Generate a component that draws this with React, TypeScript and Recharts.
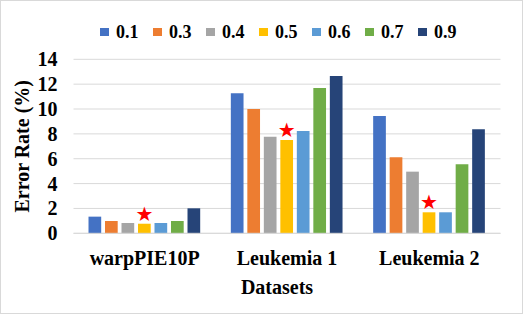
import React from 'react'
import { BarChart, Bar, XAxis, YAxis, CartesianGrid, Label, LabelList } from 'recharts'

// datasets on the x axis
const categories = ['warpPIE10P', 'Leukemia 1', 'Leukemia 2']

// error rate (%) per parameter value
const r01 = [1.34, 11.26, 9.44]
const r03 = [0.99, 10.0, 6.11]
const r04 = [0.83, 7.77, 4.96]
const r05 = [0.77, 7.5, 1.69]
const r06 = [0.83, 8.23, 1.69]
const r07 = [0.99, 11.69, 5.55]
const r09 = [2.01, 12.65, 8.37]

const yTicks = [0, 2, 4, 6, 8, 10, 12, 14]

const series = [
  { key: '0.1', values: r01, color: '#4472C4' },
  { key: '0.3', values: r03, color: '#ED7D31' },
  { key: '0.4', values: r04, color: '#A5A5A5' },
  { key: '0.5', values: r05, color: '#FFC000' },
  { key: '0.6', values: r06, color: '#5B9BD5' },
  { key: '0.7', values: r07, color: '#70AD47' },
  { key: '0.9', values: r09, color: '#264478' },
]

// the best setting gets a star
const starred = '0.5'

const data = categories.map((name, i) => {
  const row: Record<string, string | number> = { name }
  series.forEach(s => { row[s.key] = s.values[i] })
  return row
})

const FONT = '"Liberation Serif", "Times New Roman", serif'

function XTick({ x, y, payload }: any) {
  return (
    <text x={x} y={y + 24} textAnchor="middle" fontFamily={FONT} fontWeight="bold" fontSize={20} fill="#000">
      {payload.value}
    </text>
  )
}

function YTick({ x, y, payload }: any) {
  return (
    <text x={x} y={y} dy="0.35em" textAnchor="end" fontFamily={FONT} fontWeight="bold" fontSize={20} fill="#000">
      {payload.value}
    </text>
  )
}

function Star(props: any) {
  const { x, y, width } = props
  return (
    <text x={x + width / 2} y={y - 10} dy="0.35em" textAnchor="middle" fontFamily='"DejaVu Sans"' fontSize={20} fill="#FF0000">
      ★
    </text>
  )
}

export default function App() {
  return (
    <div style={{ position: 'relative', width: 526, height: 316, background: '#fff' }}>
      <style>{'body{margin:0}'}</style>
      <div style={{
        position: 'absolute', left: 0, top: 0, width: 523, height: 314,
        border: '1px solid #d9d9d9', boxSizing: 'border-box',
      }} />

      {/* legend */}
      <div style={{
        position: 'absolute', left: 100, top: 20, height: 24,
        display: 'flex', alignItems: 'center',
        fontFamily: FONT, fontWeight: 'bold', fontSize: 18, color: '#000',
      }}>
        {series.map(s => (
          <div key={s.key} style={{ display: 'flex', alignItems: 'center', marginRight: 14.5 }}>
            <span style={{ width: 9, height: 8, background: s.color, marginRight: 7 }} />
            <span>{s.key}</span>
          </div>
        ))}
      </div>

      <BarChart
        width={526}
        height={316}
        data={data}
        margin={{ top: 59.3, right: 25.5, left: 0, bottom: 22.7 }}
        barGap={3.8}
        barSize={12.7}
        style={{ position: 'absolute', left: 0, top: 0 }}
      >
        <CartesianGrid vertical={false} stroke="#d9d9d9" />
        <XAxis
          dataKey="name"
          height={60}
          interval={0}
          tickLine={false}
          axisLine={{ stroke: '#d9d9d9' }}
          tick={<XTick />}
        >
          <Label
            content={({ viewBox }: any) => (
              <text x={viewBox.x + viewBox.width / 2 - 10} y={viewBox.y + 61} textAnchor="middle"
                fontFamily={FONT} fontWeight="bold" fontSize={20} fill="#000">
                Datasets
              </text>
            )}
          />
        </XAxis>
        <YAxis
          width={73.5}
          domain={[0, 14]}
          ticks={yTicks}
          interval={0}
          axisLine={false}
          tickLine={false}
          tickMargin={10}
          tick={<YTick />}
        >
          <Label
            content={({ viewBox }: any) => {
              const cx = viewBox.x + 22
              const cy = viewBox.y + viewBox.height / 2
              return (
                <text x={cx} y={cy} dy="0.35em" textAnchor="middle" transform={`rotate(-90 ${cx} ${cy})`}
                  fontFamily={FONT} fontWeight="bold" fontSize={20} fill="#000">
                  Error Rate (%)
                </text>
              )
            }}
          />
        </YAxis>
        {series.map(s => (
          <Bar key={s.key} dataKey={s.key} fill={s.color} isAnimationActive={false}>
            {s.key === starred && <LabelList dataKey={s.key} content={<Star />} />}
          </Bar>
        ))}
      </BarChart>
    </div>
  )
}
